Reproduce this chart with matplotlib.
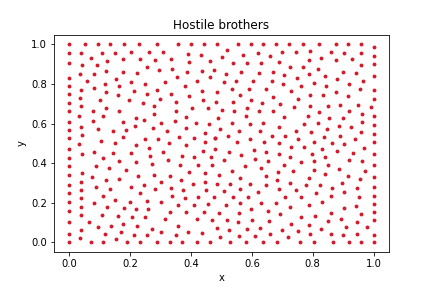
import matplotlib
matplotlib.use("Agg")
import matplotlib.pyplot as plt
import numpy as np

# points on the four borders of the unit square
top_edge_x = [0.000, 0.052, 0.093, 0.135, 0.179, 0.228, 0.290, 0.358, 0.400, 0.443,
              0.486, 0.553, 0.597, 0.637, 0.679, 0.721, 0.767, 0.821, 0.876, 0.917, 0.960]
bottom_edge_x = [0.000, 0.071, 0.112, 0.191, 0.234, 0.287, 0.330, 0.372, 0.419, 0.462,
                 0.529, 0.581, 0.637, 0.683, 0.757, 0.805, 0.868, 0.918, 0.959, 1.000]
left_edge_y = [0.955, 0.908, 0.831, 0.790, 0.749, 0.706, 0.663, 0.610, 0.567, 0.525,
               0.470, 0.426, 0.385, 0.342, 0.289, 0.246, 0.203, 0.157, 0.104, 0.041]
right_edge_y = [0.986, 0.942, 0.899, 0.842, 0.768, 0.723, 0.637, 0.590, 0.548, 0.505,
                0.448, 0.391, 0.328, 0.281, 0.234, 0.192, 0.154, 0.112, 0.038]

# interior points, by region
upper_left_x = [0.040, 0.108, 0.150, 0.203, 0.262, 0.072, 0.125, 0.176, 0.231, 0.041,
                0.090, 0.255, 0.037, 0.082, 0.122, 0.177, 0.224, 0.060, 0.117, 0.153,
                0.202, 0.250, 0.039, 0.081, 0.163, 0.120, 0.214, 0.255, 0.037, 0.160,
                0.102, 0.195, 0.242, 0.038, 0.077, 0.121, 0.165, 0.279, 0.033, 0.110,
                0.077, 0.176, 0.221, 0.246, 0.038, 0.093, 0.145, 0.187, 0.217, 0.276,
                0.043, 0.177, 0.277]
upper_left_y = [0.959, 0.957, 0.959, 0.964, 0.961, 0.930, 0.918, 0.925, 0.928, 0.894,
                0.894, 0.887, 0.851, 0.853, 0.865, 0.861, 0.856, 0.817, 0.802, 0.827,
                0.810, 0.800, 0.771, 0.779, 0.788, 0.759, 0.767, 0.749, 0.730, 0.745,
                0.718, 0.721, 0.704, 0.687, 0.665, 0.679, 0.663, 0.689, 0.638, 0.638,
                0.614, 0.610, 0.629, 0.617, 0.583, 0.572, 0.561, 0.569, 0.588, 0.579,
                0.540, 0.532, 0.646]

upper_mid_x = [0.307, 0.390, 0.434, 0.519, 0.570, 0.620, 0.281, 0.334, 0.395, 0.462,
               0.501, 0.537, 0.585, 0.630, 0.296, 0.338, 0.386, 0.435, 0.476, 0.516,
               0.566, 0.625, 0.315, 0.354, 0.420, 0.463, 0.507, 0.549, 0.604, 0.290,
               0.334, 0.382, 0.435, 0.485, 0.534, 0.591, 0.298, 0.350, 0.392, 0.438,
               0.483, 0.539, 0.562, 0.597, 0.634, 0.350, 0.402, 0.457, 0.501, 0.543,
               0.585, 0.625, 0.303, 0.348, 0.383, 0.417, 0.459, 0.489, 0.534, 0.581,
               0.593, 0.637, 0.322, 0.384, 0.445, 0.497, 0.558, 0.626, 0.361, 0.480,
               0.521]
upper_mid_y = [0.961, 0.950, 0.947, 0.972, 0.949, 0.959, 0.920, 0.926, 0.909, 0.914,
               0.935, 0.904, 0.908, 0.904, 0.873, 0.877, 0.863, 0.867, 0.873, 0.853,
               0.861, 0.855, 0.812, 0.834, 0.814, 0.834, 0.808, 0.817, 0.814, 0.771,
               0.749, 0.788, 0.767, 0.757, 0.776, 0.774, 0.726, 0.708, 0.737, 0.720,
               0.711, 0.708, 0.744, 0.720, 0.702, 0.665, 0.679, 0.677, 0.668, 0.665,
               0.679, 0.661, 0.605, 0.615, 0.631, 0.603, 0.596, 0.627, 0.602, 0.638,
               0.596, 0.603, 0.562, 0.576, 0.552, 0.572, 0.561, 0.564, 0.530, 0.528,
               0.537]

upper_right_x = [0.660, 0.700, 0.744, 0.791, 0.860, 0.902, 0.959, 0.690, 0.726, 0.768,
                 0.787, 0.828, 0.878, 0.929, 0.959, 0.669, 0.707, 0.747, 0.789, 0.819,
                 0.839, 0.898, 0.941, 0.965, 0.665, 0.703, 0.763, 0.803, 0.843, 0.880,
                 0.919, 0.645, 0.729, 0.791, 0.834, 0.877, 0.916, 0.956, 0.671, 0.753,
                 0.694, 0.738, 0.790, 0.849, 0.891, 0.949, 0.992, 0.668, 0.822, 0.920,
                 0.961, 0.706, 0.784, 0.854, 0.901, 0.772, 0.817, 0.886, 0.927, 0.962,
                 0.688, 0.745, 0.793, 0.846, 0.959, 0.667, 0.710, 0.838, 0.891]
upper_right_y = [0.942, 0.961, 0.962, 0.966, 0.961, 0.959, 0.955, 0.909, 0.884, 0.885,
                 0.921, 0.933, 0.921, 0.925, 0.896, 0.863, 0.844, 0.829, 0.848, 0.877,
                 0.839, 0.863, 0.856, 0.817, 0.814, 0.800, 0.790, 0.807, 0.791, 0.824,
                 0.800, 0.776, 0.762, 0.745, 0.744, 0.761, 0.738, 0.774, 0.735, 0.723,
                 0.699, 0.682, 0.691, 0.689, 0.692, 0.694, 0.682, 0.665, 0.658, 0.663,
                 0.649, 0.631, 0.636, 0.629, 0.626, 0.596, 0.603, 0.588, 0.584, 0.607,
                 0.583, 0.562, 0.555, 0.574, 0.557, 0.538, 0.538, 0.533, 0.537]

lower_left_x = [0.033, 0.103, 0.149, 0.249, 0.219, 0.262, 0.081, 0.144, 0.204, 0.041,
                0.267, 0.111, 0.163, 0.218, 0.272, 0.089, 0.131, 0.185, 0.041, 0.076,
                0.122, 0.165, 0.226, 0.277, 0.038, 0.087, 0.133, 0.203, 0.246, 0.038,
                0.112, 0.152, 0.231, 0.254, 0.040, 0.083, 0.201, 0.124, 0.038, 0.179,
                0.219, 0.260, 0.038, 0.108, 0.159, 0.206, 0.249, 0.065, 0.137, 0.177,
                0.224, 0.272, 0.038, 0.093, 0.119, 0.170, 0.212, 0.254, 0.035, 0.153]
lower_left_y = [0.497, 0.511, 0.501, 0.520, 0.490, 0.478, 0.458, 0.453, 0.449, 0.444,
                0.434, 0.426, 0.410, 0.403, 0.395, 0.383, 0.376, 0.367, 0.352, 0.328,
                0.316, 0.321, 0.335, 0.340, 0.306, 0.280, 0.270, 0.280, 0.290, 0.263,
                0.232, 0.212, 0.248, 0.210, 0.222, 0.200, 0.205, 0.178, 0.178, 0.171,
                0.167, 0.166, 0.135, 0.138, 0.133, 0.126, 0.125, 0.104, 0.080, 0.092,
                0.080, 0.067, 0.061, 0.075, 0.041, 0.051, 0.036, 0.034, 0.020, 0.014]

lower_mid_x = [0.292, 0.410, 0.445, 0.479, 0.552, 0.593, 0.641, 0.329, 0.384, 0.307,
               0.440, 0.479, 0.525, 0.563, 0.606, 0.325, 0.370, 0.411, 0.466, 0.507,
               0.611, 0.365, 0.424, 0.470, 0.577, 0.629, 0.395, 0.446, 0.493, 0.534,
               0.331, 0.368, 0.407, 0.447, 0.487, 0.528, 0.560, 0.595, 0.302, 0.334,
               0.281, 0.375, 0.448, 0.508, 0.561, 0.620, 0.338, 0.379, 0.422, 0.476,
               0.539, 0.587, 0.302, 0.357, 0.409, 0.457, 0.515, 0.562, 0.597, 0.630,
               0.330, 0.384, 0.442, 0.493, 0.558, 0.315, 0.420, 0.470, 0.517, 0.556,
               0.601, 0.358, 0.484, 0.526, 0.583, 0.627, 0.303, 0.350, 0.391, 0.437,
               0.558, 0.611, 0.495]
lower_mid_y = [0.520, 0.525, 0.504, 0.526, 0.509, 0.523, 0.504, 0.499, 0.492, 0.458,
               0.463, 0.470, 0.458, 0.443, 0.468, 0.417, 0.434, 0.432, 0.431, 0.417,
               0.419, 0.390, 0.388, 0.388, 0.384, 0.376, 0.357, 0.349, 0.340, 0.362,
               0.333, 0.313, 0.292, 0.306, 0.296, 0.296, 0.323, 0.292, 0.304, 0.273,
               0.267, 0.265, 0.265, 0.258, 0.268, 0.255, 0.232, 0.222, 0.229, 0.229,
               0.229, 0.229, 0.205, 0.186, 0.186, 0.193, 0.186, 0.196, 0.169, 0.196,
               0.154, 0.152, 0.150, 0.147, 0.149, 0.116, 0.116, 0.111, 0.113, 0.101,
               0.114, 0.084, 0.070, 0.060, 0.065, 0.073, 0.053, 0.037, 0.049, 0.048,
               0.032, 0.031, 0.026]

lower_right_x = [0.753, 0.804, 0.862, 0.904, 0.938, 0.688, 0.729, 0.772, 0.832, 0.967,
                 0.645, 0.689, 0.797, 0.881, 0.933, 0.653, 0.727, 0.763, 0.805, 0.841,
                 0.919, 0.962, 0.706, 0.687, 0.736, 0.805, 0.851, 0.888, 0.973, 0.647,
                 0.788, 0.842, 0.916, 0.957, 0.684, 0.724, 0.779, 0.824, 0.895, 0.946,
                 0.648, 0.690, 0.745, 0.811, 0.863, 0.902, 0.710, 0.763, 0.859, 0.951,
                 0.678, 0.727, 0.787, 0.829, 0.903, 0.943, 0.652, 0.692, 0.762, 0.808,
                 0.860, 0.894, 0.958, 0.658, 0.729, 0.787, 0.850, 0.908, 0.944, 0.977,
                 0.698, 0.752, 0.826, 0.661, 0.719, 0.791, 0.859, 0.901, 0.947]
lower_right_y = [0.520, 0.509, 0.499, 0.496, 0.521, 0.502, 0.480, 0.482, 0.470, 0.477,
                 0.455, 0.448, 0.446, 0.460, 0.453, 0.412, 0.429, 0.405, 0.408, 0.429,
                 0.414, 0.412, 0.391, 0.354, 0.359, 0.364, 0.390, 0.369, 0.361, 0.335,
                 0.326, 0.343, 0.335, 0.321, 0.313, 0.297, 0.287, 0.289, 0.301, 0.275,
                 0.287, 0.267, 0.263, 0.249, 0.273, 0.256, 0.227, 0.226, 0.231, 0.226,
                 0.196, 0.179, 0.188, 0.202, 0.172, 0.184, 0.155, 0.140, 0.126, 0.133,
                 0.149, 0.118, 0.143, 0.109, 0.092, 0.089, 0.108, 0.079, 0.102, 0.077,
                 0.061, 0.058, 0.068, 0.041, 0.024, 0.039, 0.039, 0.037, 0.041]

xs = np.concatenate([top_edge_x, bottom_edge_x,
                     np.zeros(len(left_edge_y)), np.ones(len(right_edge_y)),
                     upper_left_x, upper_mid_x, upper_right_x,
                     lower_left_x, lower_mid_x, lower_right_x])
ys = np.concatenate([np.ones(len(top_edge_x)), np.zeros(len(bottom_edge_x)),
                     left_edge_y, right_edge_y,
                     upper_left_y, upper_mid_y, upper_right_y,
                     lower_left_y, lower_mid_y, lower_right_y])

fig, ax = plt.subplots(figsize=(6, 4), dpi=72)
fig.subplots_adjust(left=0.125, right=0.9, top=0.88, bottom=0.125)
ax.scatter(xs, ys, s=15, color='#d01c2c', linewidths=0)
ax.set_title('Hostile brothers')
ax.set_xlabel('x')
ax.set_ylabel('y')
plt.savefig('out.png', dpi=72)
